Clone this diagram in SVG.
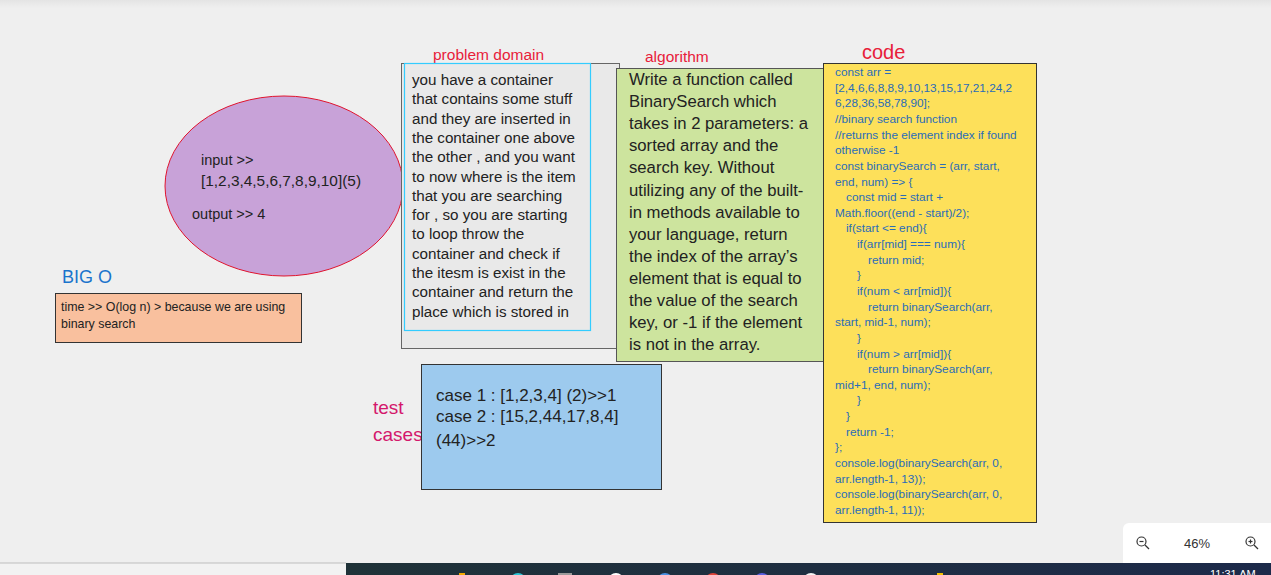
<svg xmlns="http://www.w3.org/2000/svg" width="1271" height="575" viewBox="0 0 1271 575">
<defs>
<linearGradient id="topShade" x1="0" y1="0" x2="0" y2="1">
<stop offset="0" stop-color="#e4e4e4"/>
<stop offset="1" stop-color="#efefef"/>
</linearGradient>
<linearGradient id="taskbar" x1="0" y1="0" x2="1" y2="0">
<stop offset="0" stop-color="#1f3238"/>
<stop offset="1" stop-color="#1d2a4a"/>
</linearGradient>
</defs>
<style>
text{font-family:"Liberation Sans",Arial,sans-serif;}
.lbl{fill:#e8203a;font-size:15.5px;}
.body{fill:#222;}
.pd{font-size:15.2px;}
.alg{font-size:16.7px;}
.code{font-size:11.8px;fill:#2a6cb8;}
.box{stroke:#333;stroke-width:1;}
</style>
<rect x="0" y="0" width="1271" height="575" fill="#efefef"/>
<rect x="0" y="0" width="1271" height="8" fill="url(#topShade)"/>

<g id="connectors"></g>

<g id="io-ellipse">
<ellipse cx="284" cy="186" rx="119" ry="90" fill="#c8a2d8" stroke="#e0142e" stroke-width="1"/>
<text class="body" x="201" y="165" font-size="14.5">input &gt;&gt;</text>
<text class="body" x="201" y="186" font-size="15.4">[1,2,3,4,5,6,7,8,9,10](5)</text>
<text class="body" x="192" y="219" font-size="14.5">output &gt;&gt; 4</text>
</g>

<g id="big-o">
<text x="62" y="283" font-size="18" fill="#1a74cc">BIG O</text>
<rect class="box" x="55.5" y="293.5" width="246" height="49" fill="#f9c09e"/>
<text class="body" x="61" y="311" font-size="12.4">time &gt;&gt; O(log n) &gt; because we are using</text>
<text class="body" x="61" y="328" font-size="12.4">binary search</text>
</g>

<g id="problem-domain">
<text class="lbl" x="433" y="60">problem domain</text>
<rect x="401.5" y="63.5" width="218" height="285" fill="#e9e9e9" stroke="#666" stroke-width="1"/>
<rect x="404.5" y="63.5" width="186" height="267" fill="none" stroke="#33ccff" stroke-width="1.2"/>
<g class="body pd">
<text x="412" y="85">you have a container</text>
<text x="412" y="104.3">that contains some stuff</text>
<text x="412" y="123.6">and they are inserted in</text>
<text x="412" y="142.9">the container one above</text>
<text x="412" y="162.2">the other ,  and you want</text>
<text x="412" y="181.5">to now where is the item</text>
<text x="412" y="200.8">that you are searching</text>
<text x="412" y="220.1">for  , so you  are starting</text>
<text x="412" y="239.4">to loop throw the</text>
<text x="412" y="258.7">container and check if</text>
<text x="412" y="278">the itesm is exist in the</text>
<text x="412" y="297.3">container and return the</text>
<text x="412" y="316.6">place which is stored in</text>
</g>
</g>

<g id="algorithm">
<text class="lbl" x="645" y="62">algorithm</text>
<rect x="616.5" y="68.5" width="212" height="293" fill="#cde49e" stroke="#555" stroke-width="1"/>
<g class="body alg">
<text x="629" y="85">Write a function called</text>
<text x="629" y="107.1">BinarySearch which</text>
<text x="629" y="129.2">takes in 2 parameters: a</text>
<text x="629" y="151.3">sorted array and the</text>
<text x="629" y="173.4">search key. Without</text>
<text x="629" y="195.5">utilizing any of the built-</text>
<text x="629" y="217.6">in methods available to</text>
<text x="629" y="239.7">your language, return</text>
<text x="629" y="261.8">the index of the array’s</text>
<text x="629" y="283.9">element that is equal to</text>
<text x="629" y="306">the value of the search</text>
<text x="629" y="328.1">key, or -1 if the element</text>
<text x="629" y="350.2">is not in the array.</text>
</g>
</g>

<g id="code">
<text x="862" y="59" font-size="20" fill="#e8203a">code</text>
<rect class="box" x="823.5" y="63.5" width="213" height="459" fill="#fde05a"/>
<g class="code">
<text x="835" y="76">const arr =</text>
<text x="835" y="91.6">[2,4,6,6,8,8,9,10,13,15,17,21,24,2</text>
<text x="835" y="107.3">6,28,36,58,78,90];</text>
<text x="835" y="122.9">//binary search function</text>
<text x="835" y="138.6">//returns the element index if found</text>
<text x="835" y="154.2">otherwise -1</text>
<text x="835" y="169.8">const binarySearch = (arr, start,</text>
<text x="835" y="185.5">end, num) =&gt; {</text>
<text x="846" y="201.1">const mid = start +</text>
<text x="835" y="216.8">Math.floor((end - start)/2);</text>
<text x="846" y="232.4">if(start &lt;= end){</text>
<text x="857" y="248">if(arr[mid] === num){</text>
<text x="868" y="263.7">return mid;</text>
<text x="857" y="279.3">}</text>
<text x="857" y="295">if(num &lt; arr[mid]){</text>
<text x="868" y="310.6">return binarySearch(arr,</text>
<text x="835" y="326.2">start, mid-1, num);</text>
<text x="857" y="341.9">}</text>
<text x="857" y="357.5">if(num &gt; arr[mid]){</text>
<text x="868" y="373.2">return binarySearch(arr,</text>
<text x="835" y="388.8">mid+1, end, num);</text>
<text x="857" y="404.4">}</text>
<text x="846" y="420.1">}</text>
<text x="846" y="435.7">return -1;</text>
<text x="835" y="451.4">};</text>
<text x="835" y="467">console.log(binarySearch(arr, 0,</text>
<text x="835" y="482.6">arr.length-1, 13));</text>
<text x="835" y="498.3">console.log(binarySearch(arr, 0,</text>
<text x="835" y="513.9">arr.length-1, 11));</text>
</g>
</g>

<g id="test-cases">
<text x="373" y="414" font-size="19" fill="#d4186c">test</text>
<text x="373" y="441" font-size="19" fill="#d4186c">cases</text>
<rect class="box" x="421.5" y="364.5" width="240" height="125" fill="#9dcaee"/>
<g class="body" font-size="17">
<text x="436" y="401">case 1 : [1,2,3,4]  (2)&gt;&gt;1</text>
<text x="436" y="422">case 2 : [15,2,44,17,8,4]</text>
<text x="436" y="446">(44)&gt;&gt;2</text>
</g>
</g>

<g id="zoom-widget">
<rect x="1123" y="523" width="160" height="46" rx="6" fill="#ffffff"/>
<circle cx="1141.5" cy="541.5" r="4.5" fill="none" stroke="#333" stroke-width="1.2"/>
<line x1="1139.5" y1="541.5" x2="1143.5" y2="541.5" stroke="#333" stroke-width="1.2"/>
<line x1="1145" y1="545" x2="1149" y2="549" stroke="#333" stroke-width="1.2"/>
<text x="1184" y="548" font-size="13" fill="#333">46%</text>
<circle cx="1250.5" cy="541.5" r="4.5" fill="none" stroke="#333" stroke-width="1.2"/>
<line x1="1248.5" y1="541.5" x2="1252.5" y2="541.5" stroke="#333" stroke-width="1.2"/>
<line x1="1250.5" y1="539.5" x2="1250.5" y2="543.5" stroke="#333" stroke-width="1.2"/>
<line x1="1254" y1="545" x2="1258" y2="549" stroke="#333" stroke-width="1.2"/>
</g>

<g id="taskbar">
<rect x="0" y="563" width="346" height="12" fill="#f2f2f2"/>
<rect x="0" y="562.5" width="346" height="1" fill="#bdbdbd"/>
<rect x="346" y="563" width="925" height="12" fill="url(#taskbar)"/>
<circle cx="518" cy="581" r="8" fill="#2cc5d5"/>
<rect x="558" y="573" width="14" height="6" fill="#9a9a9a"/>
<circle cx="616" cy="581" r="8" fill="#ffffff"/>
<circle cx="616" cy="581" r="6" fill="#3cb55a"/>
<circle cx="665" cy="581" r="8" fill="#4a90e2"/>
<circle cx="713" cy="581" r="8" fill="#e0443a"/>
<circle cx="762" cy="581" r="8" fill="#5a5fe0"/>
<circle cx="811" cy="581" r="8" fill="#f4f4f4"/>
<rect x="459" y="573" width="6" height="4" fill="#f2a900"/>
<rect x="937" y="573" width="6" height="4" fill="#f2c000"/>
<text x="1210" y="578" font-size="11" fill="#ffffff">11:31 AM</text>
</g>
</svg>
